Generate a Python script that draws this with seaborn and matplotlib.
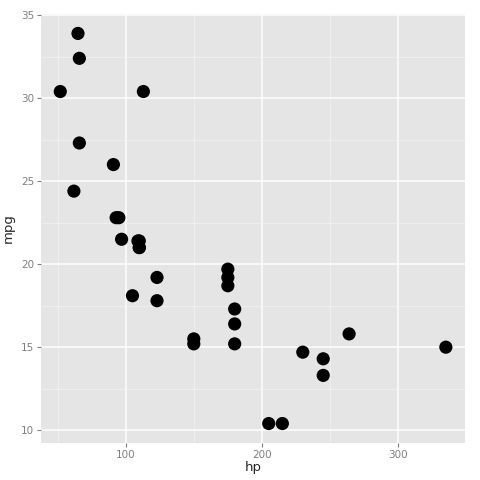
import matplotlib
matplotlib.use("Agg")
import matplotlib.pyplot as plt
import pandas as pd
import seaborn as sns

hp = [110, 110, 93, 110, 175, 105, 245, 62, 95, 123, 123, 180, 180, 180, 205, 215,
      230, 66, 52, 65, 97, 150, 150, 245, 175, 66, 91, 113, 264, 175, 335, 109]
mpg = [21.0, 21.0, 22.8, 21.4, 18.7, 18.1, 14.3, 24.4, 22.8, 19.2, 17.8, 16.4, 17.3,
       15.2, 10.4, 10.4, 14.7, 32.4, 30.4, 33.9, 21.5, 15.5, 15.2, 13.3, 19.2, 27.3,
       26.0, 30.4, 15.8, 19.7, 15.0, 21.4]
x_ticks = [100, 200, 300]
y_ticks = [10, 15, 20, 25, 30, 35]

df = pd.DataFrame({"hp": hp, "mpg": mpg})

sns.set_theme(style="white")
plt.rcParams['font.family'] = ['DejaVu Sans']

fig = plt.figure(figsize=(4.8, 4.8), dpi=100)
ax = fig.add_axes([0.0854, 0.077, 0.8836, 0.894])
ax.set_facecolor("#E5E5E5")

sns.scatterplot(data=df, x="hp", y="mpg", ax=ax, color="black", s=90,
                edgecolor="none", zorder=3)

xlo, xhi = min(hp), max(hp)
ylo, yhi = min(mpg), max(mpg)
xpad = (xhi - xlo) * 0.05
ypad = (yhi - ylo) * 0.05
ax.set_xlim(xlo - xpad, xhi + xpad)
ax.set_ylim(ylo - ypad, yhi + ypad)

ax.set_xticks(x_ticks)
ax.set_yticks(y_ticks)
ax.set_xticks([50, 150, 250], minor=True)
ax.set_yticks([12.5, 17.5, 22.5, 27.5, 32.5], minor=True)
ax.grid(which="major", color="white", linewidth=1.1, zorder=1)
ax.grid(which="minor", color="#F2F2F2", linewidth=0.5, zorder=1)
ax.set_axisbelow(True)
for s in ax.spines.values():
    s.set_visible(False)

ax.tick_params(which="major", length=3, width=0.8, color="#7F7F7F",
               labelcolor="#7F7F7F", labelsize=7.5, pad=2,
               bottom=True, left=True)
ax.tick_params(which="minor", length=0)

ax.set_xlabel("hp", fontsize=9.5, labelpad=1)
ax.set_ylabel("mpg", fontsize=9.5, labelpad=4)

fig.savefig("out.png", dpi=100)
